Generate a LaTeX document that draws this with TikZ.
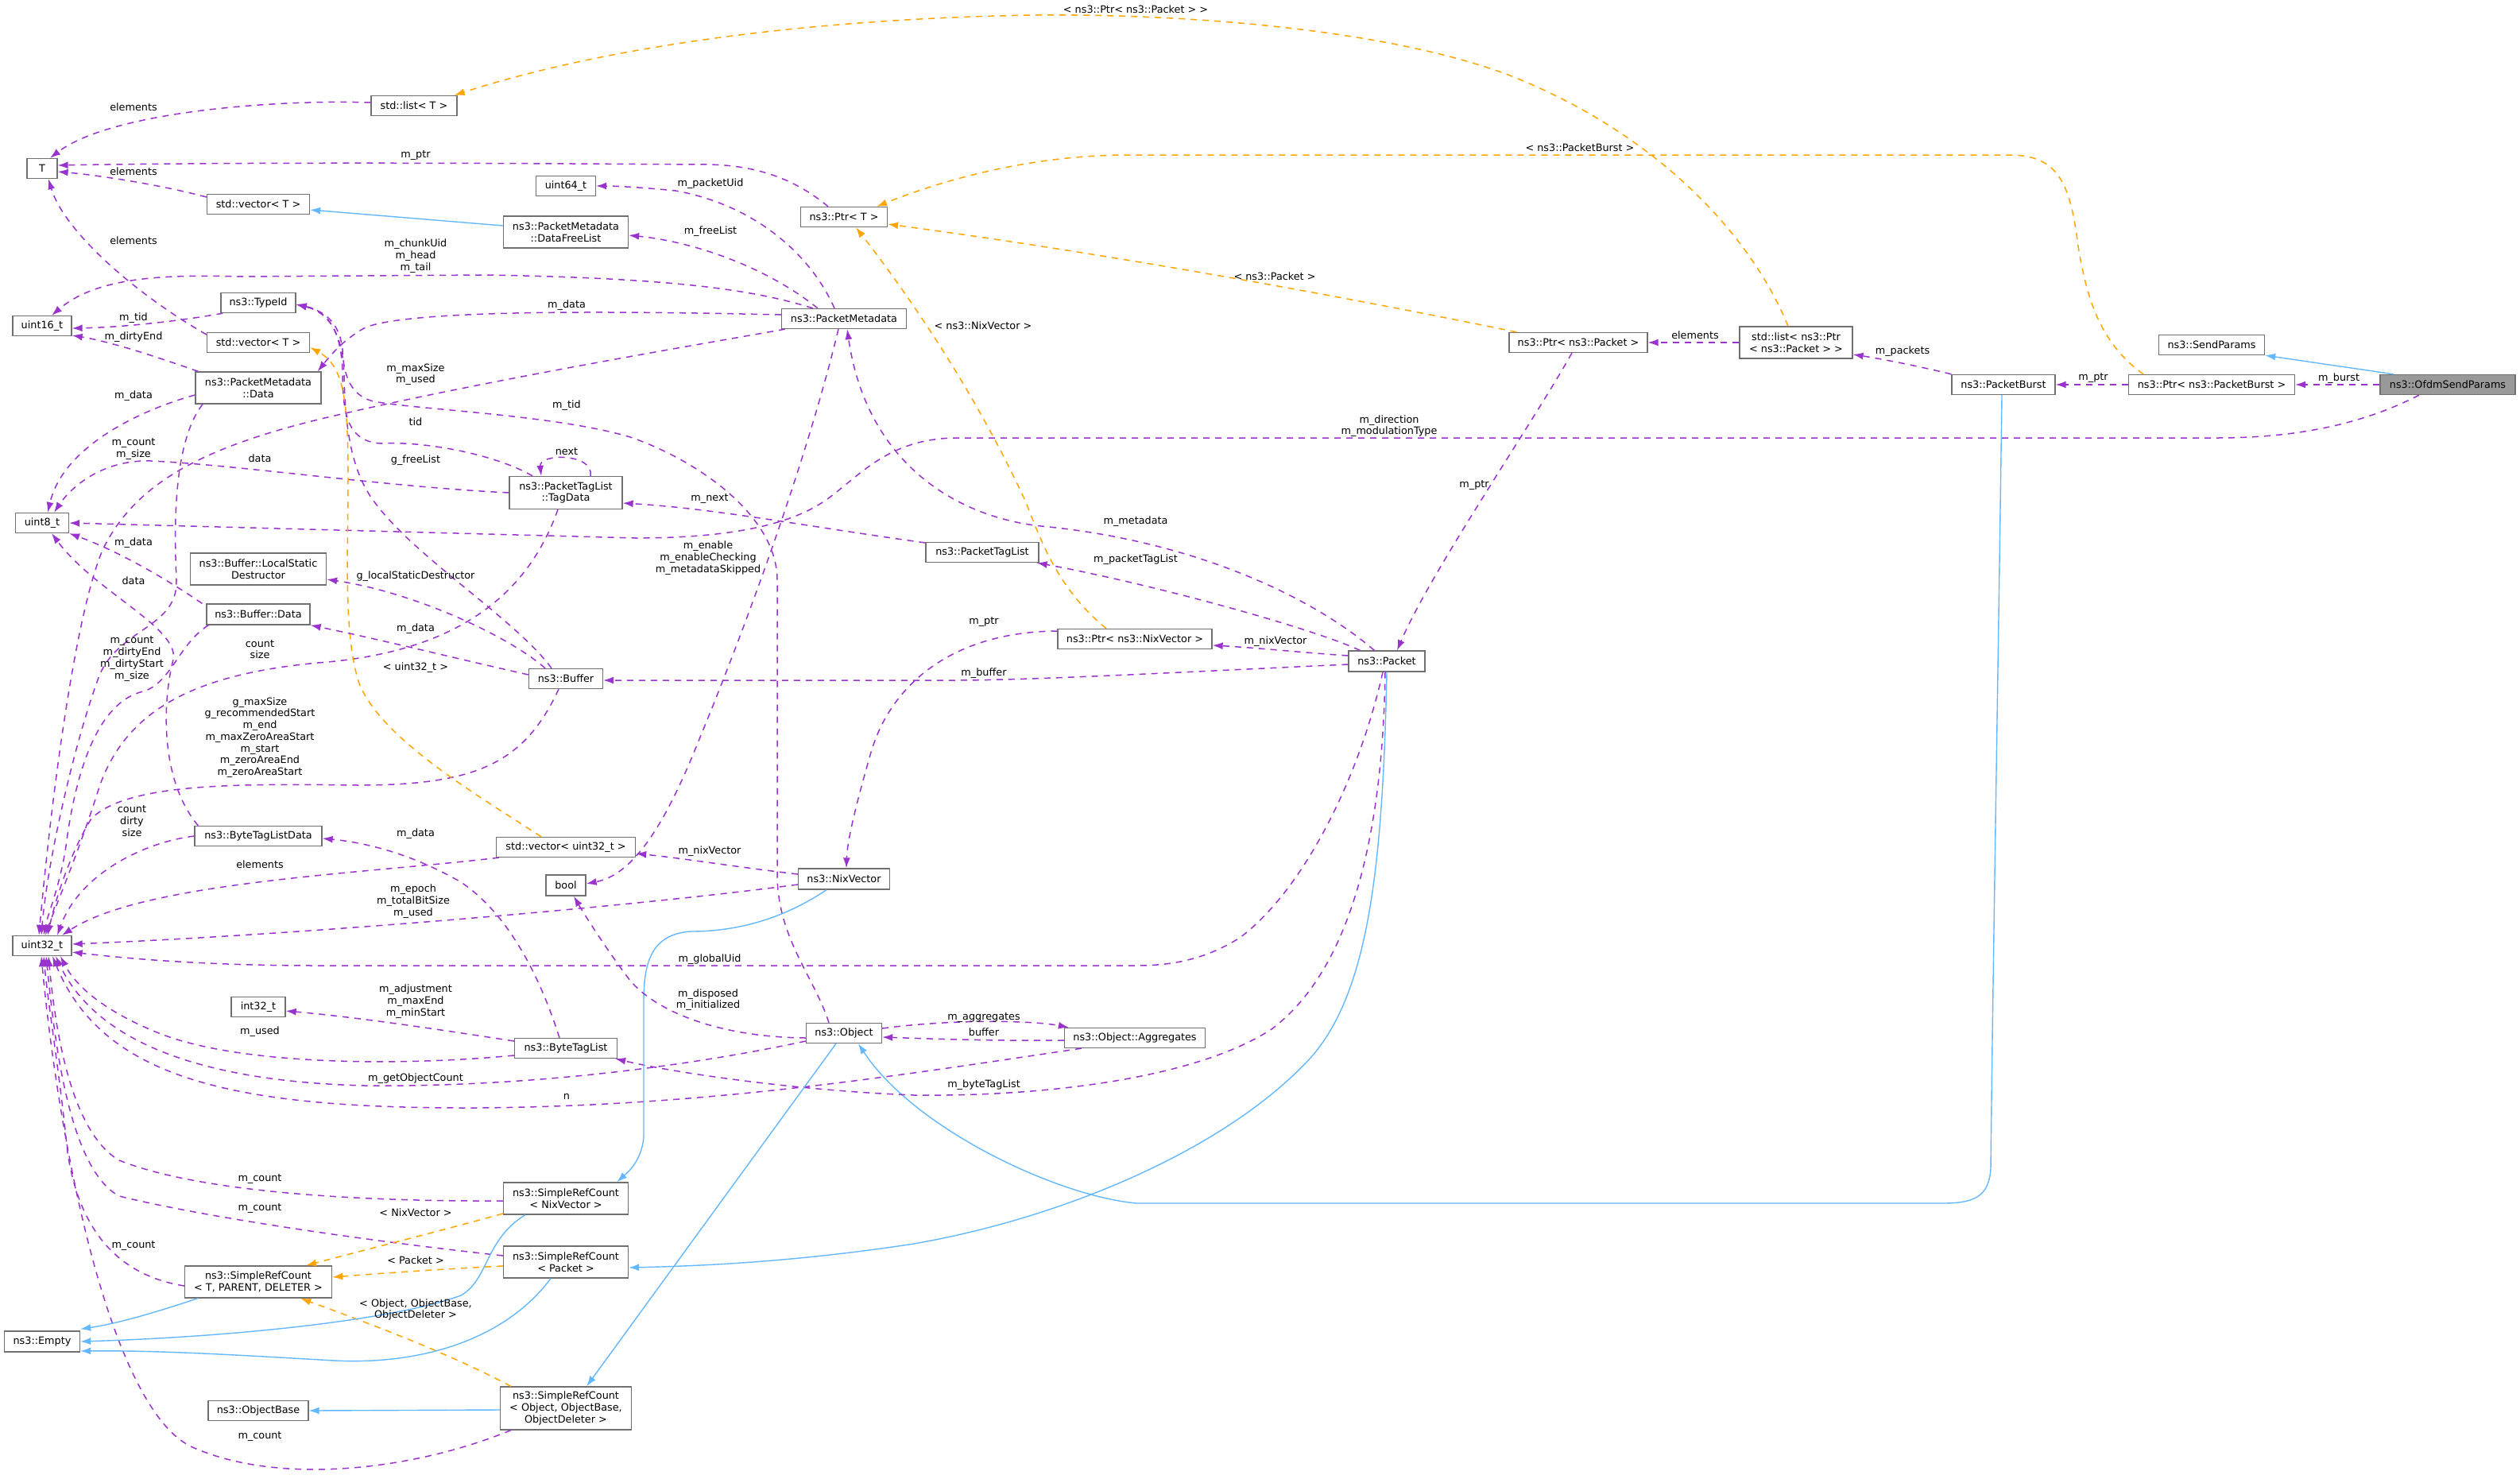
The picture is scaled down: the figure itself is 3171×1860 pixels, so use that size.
\documentclass[tikz,border=0pt]{standalone}
\usepackage{fontspec}
\setmainfont{DejaVu Sans}
\usetikzlibrary{arrows.meta}
\newcommand\dxfont{\fontsize{12.8pt}{14.7pt}\selectfont}
\definecolor{pur}{HTML}{9A32CD}
\definecolor{ora}{HTML}{FFA500}
\definecolor{blu}{HTML}{63B8FF}
\definecolor{bord}{HTML}{707070}
\definecolor{ofill}{HTML}{999999}
\tikzset{
 box/.style={draw=bord, line width=1.3pt, fill=white, inner sep=1pt, align=center, font=\dxfont, text=black},
 lab/.style={font=\dxfont, align=center, inner sep=0pt, text=black},
 pul/.style={draw=pur, line width=1.5pt, dash pattern=on 8pt off 7pt, -{Latex[length=13pt,width=9pt]}},
 orl/.style={draw=ora, line width=1.5pt, dash pattern=on 8pt off 7pt, -{Latex[length=13pt,width=9pt]}},
 bll/.style={draw=blu, line width=1.4pt, -{Latex[length=13pt,width=9pt]}},
}
\begin{document}
\begin{tikzpicture}[x=1pt,y=-1pt]
\fill[white] (0,0) rectangle (3171,1860);
\useasboundingbox (0,0) rectangle (3171,1860);
% ---------------- nodes
\node[box, minimum width=38pt, minimum height=25pt] (T) at (53,212) {T};
\node[box, minimum width=108pt, minimum height=25pt] (stdlistT) at (521,133) {std::list< T >};
\node[box, minimum width=129pt, minimum height=25pt] (vecA) at (325,257) {std::vector< T >};
\node[box, minimum width=75pt, minimum height=25pt] (uint64) at (712,234) {uint64\_t};
\node[box, minimum width=157pt, minimum height=40pt] (DFL) at (712,292) {ns3::PacketMetadata\\::DataFreeList};
\node[box, minimum width=94pt, minimum height=25pt] (TypeId) at (325,381) {ns3::TypeId};
\node[box, minimum width=74pt, minimum height=25pt] (uint16) at (53,410) {uint16\_t};
\node[box, minimum width=129pt, minimum height=25pt] (vecB) at (325,431) {std::vector< T >};
\node[box, minimum width=158pt, minimum height=40pt] (PMData) at (325,488) {ns3::PacketMetadata\\::Data};
\node[box, minimum width=142pt, minimum height=41pt] (TagData) at (712,620) {ns3::PacketTagList\\::TagData};
\node[box, minimum width=67pt, minimum height=25pt] (uint8) at (53,658) {uint8\_t};
\node[box, minimum width=171pt, minimum height=40pt] (LSD) at (325,716) {ns3::Buffer::LocalStatic\\Destructor};
\node[box, minimum width=130pt, minimum height=26pt] (BufData) at (325,773) {ns3::Buffer::Data};
\node[box, minimum width=93pt, minimum height=25pt] (Buffer) at (712,854) {ns3::Buffer};
\node[box, minimum width=160pt, minimum height=25pt] (BTLData) at (325,1052) {ns3::ByteTagListData};
\node[box, minimum width=175pt, minimum height=25pt] (vecU32) at (712,1066) {std::vector< uint32\_t >};
\node[box, minimum width=50pt, minimum height=26pt] (bool) at (712,1114) {bool};
\node[box, minimum width=74pt, minimum height=25pt] (uint32) at (53,1190) {uint32\_t};
\node[box, minimum width=68pt, minimum height=25pt] (int32) at (325,1267) {int32\_t};
\node[box, minimum width=129pt, minimum height=25pt] (BTL) at (712,1319) {ns3::ByteTagList};
\node[box, minimum width=157pt, minimum height=40pt] (SRCNix) at (712,1508) {ns3::SimpleRefCount\\< NixVector >};
\node[box, minimum width=157pt, minimum height=40pt] (SRCPacket) at (712,1588) {ns3::SimpleRefCount\\< Packet >};
\node[box, minimum width=185pt, minimum height=40pt] (SRCT) at (325,1613) {ns3::SimpleRefCount\\< T, PARENT, DELETER >};
\node[box, minimum width=95pt, minimum height=26pt] (Empty) at (53,1688) {ns3::Empty};
\node[box, minimum width=126pt, minimum height=25pt] (ObjectBase) at (325,1775) {ns3::ObjectBase};
\node[box, minimum width=165pt, minimum height=54pt] (SRCObj) at (712,1772) {ns3::SimpleRefCount\\< Object, ObjectBase,\\ObjectDeleter >};
\node[box, minimum width=109pt, minimum height=25pt] (PtrT) at (1062,273) {ns3::Ptr< T >};
\node[box, minimum width=157pt, minimum height=25pt] (PM) at (1062,401) {ns3::PacketMetadata};
\node[box, minimum width=142pt, minimum height=25pt] (PTL) at (1236,695) {ns3::PacketTagList};
\node[box, minimum width=194pt, minimum height=25pt] (PtrNix) at (1428,804) {ns3::Ptr< ns3::NixVector >};
\node[box, minimum width=115pt, minimum height=26pt] (NixVector) at (1062,1106) {ns3::NixVector};
\node[box, minimum width=95pt, minimum height=25pt] (Object) at (1062,1300) {ns3::Object};
\node[box, minimum width=177pt, minimum height=25pt] (Aggregates) at (1428,1306) {ns3::Object::Aggregates};
\node[box, minimum width=96pt, minimum height=26pt] (Packet) at (1745,832) {ns3::Packet};
\node[box, minimum width=174pt, minimum height=25pt] (PtrPacket) at (1986,431) {ns3::Ptr< ns3::Packet >};
\node[box, minimum width=142pt, minimum height=40pt] (listPP) at (2260,431) {std::list< ns3::Ptr\\< ns3::Packet > >};
\node[box, minimum width=130pt, minimum height=25pt] (PacketBurst) at (2521,484) {ns3::PacketBurst};
\node[box, minimum width=209pt, minimum height=25pt] (PtrBurst) at (2783,484) {ns3::Ptr< ns3::PacketBurst >};
\node[box, minimum width=133pt, minimum height=25pt] (SendParams) at (2783,434) {ns3::SendParams};
\node[box, fill=ofill, minimum width=170pt, minimum height=25pt] (Ofdm) at (3080,484) {ns3::OfdmSendParams};
% ---------------- edges
\draw[bll] ([xshift=-68pt]Ofdm.north) -- (SendParams.south east);
\draw[pul] (Ofdm.west) -- (PtrBurst.east);
\draw[pul] ([xshift=-36pt]Ofdm.south) .. controls (2980,530) and (2900,551) .. (2790,551) -- (1200,551) .. controls (1120,553) and (1085,595) .. (1045,625) .. controls (1000,660) and (920,677) .. (800,677) -- (uint8.east);
\draw[pul] (PtrBurst.west) -- (PacketBurst.east);
\draw[orl] ([xshift=-86pt]PtrBurst.north) .. controls (2640,430) and (2625,370) .. (2615,310) .. controls (2605,230) and (2590,195) .. (2528,195) -- (1420,195) .. controls (1300,195) and (1190,225) .. ([xshift=-14pt]PtrT.north east);
\draw[pul] (PacketBurst.north west) .. controls (2420,462) and (2370,452) .. ([yshift=-15pt]listPP.east);
\draw[bll] ([xshift=-2pt]PacketBurst.south) .. controls (2515,800) and (2508,1200) .. (2505,1470) .. controls (2503,1505) and (2485,1514) .. (2445,1514) -- (1430,1514) .. controls (1330,1505) and (1150,1420) .. ([xshift=18pt]Object.south);
\draw[pul] (listPP.west) -- (PtrPacket.east);
\draw[orl] ([xshift=-10pt]listPP.north) .. controls (2205,300) and (2090,170) .. (1900,95) .. controls (1750,38) and (1500,17) .. (1300,19) .. controls (1000,24) and (750,62) .. ([xshift=-4pt]stdlistT.north east);
\draw[pul] ([xshift=-8pt]PtrPacket.south) .. controls (1930,530) and (1800,720) .. ([xshift=13pt]Packet.north);
\draw[orl] ([xshift=10pt]PtrPacket.north west) .. controls (1700,375) and (1400,320) .. ([yshift=-9pt]PtrT.east);
\draw[pul] ([xshift=33pt]Packet.north west) .. controls (1650,750) and (1500,680) .. (1310,662) .. controls (1200,650) and (1090,580) .. ([xshift=4pt]PM.south);
\draw[pul] ([xshift=15pt]Packet.north west) .. controls (1650,790) and (1450,735) .. ([xshift=-3pt]PTL.south east);
\draw[pul] ([yshift=7pt]Packet.west) .. controls (1650,822) and (1580,815) .. ([yshift=-8pt]PtrNix.east);
\draw[pul] ([yshift=-4pt]Packet.west) .. controls (1500,845) and (1300,856) .. (1200,856) -- ([yshift=-2pt]Buffer.east);
\draw[pul] ([xshift=-5pt]Packet.south) .. controls (1710,980) and (1640,1120) .. (1560,1180) .. controls (1520,1205) and (1480,1215) .. (1430,1215) -- (400,1215) .. controls (250,1215) and (150,1205) .. ([yshift=-8pt]uint32.east);
\draw[pul] ([xshift=-2pt]Packet.south) .. controls (1740,1050) and (1700,1220) .. (1600,1295) .. controls (1500,1360) and (1300,1380) .. (1150,1378) .. controls (1000,1372) and (850,1350) .. ([xshift=-3pt]BTL.south east);
\draw[pul] ([yshift=10pt]PtrNix.west) .. controls (1200,795) and (1120,860) .. (1095,950) .. controls (1075,1020) and (1066,1060) .. ([xshift=3pt]NixVector.north);
\draw[orl] ([xshift=-36pt]PtrNix.north) .. controls (1330,740) and (1310,680) .. (1290,630) .. controls (1230,500) and (1150,380) .. ([xshift=15pt]PtrT.south);
\draw[pul] ([yshift=12pt]PTL.west) .. controls (1000,660) and (900,640) .. ([yshift=-13pt]TagData.east);
\draw[pul] ([xshift=31pt]TagData.north) .. controls (748,570) and (678,570) .. ([xshift=-31pt]TagData.north);
\draw[pul] ([xshift=-42pt]TagData.north) .. controls (620,570) and (530,555) .. (480,558) .. controls (432,556) and (432,510) .. (431,470) .. controls (430,420) and (415,392) .. ([yshift=-2pt]TypeId.east);
\draw[pul] ([xshift=-19pt]Object.north) .. controls (1025,1230) and (978,1180) .. (978,1100) -- (978,730) .. controls (978,650) and (880,580) .. (793,550) .. controls (700,522) and (520,515) .. (470,505) .. controls (436,497) and (432,462) .. (431,440) .. controls (428,410) and (412,392) .. ([yshift=-2pt]TypeId.east);
\draw[pul] ([xshift=-18pt]Buffer.north) .. controls (650,780) and (520,700) .. (470,630) .. controls (440,590) and (434,530) .. (433,470) .. controls (431,420) and (414,393) .. ([yshift=-2pt]TypeId.east);
\draw[pul] (TagData.west) .. controls (480,612) and (300,585) .. (190,580) .. controls (130,578) and (90,612) .. ([xshift=15pt]uint8.north);
\draw[pul] ([yshift=-9pt]PMData.west) .. controls (180,515) and (80,560) .. ([xshift=7pt]uint8.north);
\draw[pul] ([xshift=-10pt]TagData.south) .. controls (660,760) and (560,822) .. (400,834) .. controls (250,848) and (160,890) .. (125,990) .. controls (100,1070) and (70,1140) .. ([xshift=4pt]uint32.north);
\draw[pul] ([xshift=-70pt]PMData.south) .. controls (215,560) and (220,680) .. (222,730) .. controls (224,790) and (150,790) .. (125,850) .. controls (95,930) and (60,1080) .. ([xshift=-1pt]uint32.north);
\draw[pul] ([xshift=-5pt]BufData.north west) .. controls (200,722) and (140,690) .. (uint8.south east);
\draw[pul] ([xshift=5pt]BTLData.north west) .. controls (200,980) and (205,880) .. (218,830) .. controls (226,790) and (120,745) .. ([xshift=12pt]uint8.south);
\draw[pul] ([xshift=3pt]BufData.south west) .. controls (225,810) and (215,860) .. (180,870) .. controls (130,882) and (100,950) .. (85,1050) .. controls (78,1110) and (60,1150) .. ([xshift=2pt]uint32.north);
\draw[pul] ([xshift=5pt]PM.south west) .. controls (900,430) and (600,480) .. (400,528) .. controls (250,565) and (170,610) .. (130,690) .. controls (95,770) and (65,1000) .. ([xshift=-4pt]uint32.north);
\draw[pul] ([xshift=-9pt]Buffer.south) .. controls (660,960) and (600,988) .. (450,988) .. controls (300,986) and (160,985) .. (115,1030) .. controls (90,1070) and (70,1130) .. ([xshift=7pt]uint32.north);
\draw[pul] (BTLData.west) .. controls (180,1060) and (100,1100) .. ([xshift=19pt]uint32.north);
\draw[pul] ([xshift=4pt]vecU32.south west) .. controls (450,1100) and (180,1110) .. ([xshift=25pt]uint32.north);
\draw[orl] ([xshift=-31pt]vecU32.north) .. controls (600,1000) and (480,930) .. (452,860) .. controls (432,800) and (438,700) .. (438,600) .. controls (438,500) and (432,460) .. ([yshift=-6pt]vecB.east);
\draw[pul] ([xshift=-26pt]Buffer.north) .. controls (640,800) and (520,745) .. ([yshift=-13pt]LSD.east);
\draw[pul] ([yshift=5pt]Buffer.west) .. controls (580,830) and (480,805) .. (BufData.south east);
\draw[pul] ([yshift=6pt]NixVector.west) .. controls (920,1090) and (860,1080) .. ([yshift=-8pt]vecU32.east);
\draw[pul] ([yshift=-7pt]NixVector.west) .. controls (800,1140) and (400,1175) .. ([yshift=2pt]uint32.east);
\draw[pul] ([xshift=-7pt]PM.south) .. controls (1020,560) and (950,760) .. (880,930) .. controls (840,1030) and (800,1100) .. ([yshift=2pt]bool.east);
\draw[pul] ([xshift=40pt]PM.north west) .. controls (950,365) and (850,350) .. (612,346) -- (300,348) .. controls (200,345) and (120,350) .. ([xshift=12pt]uint16.north);
\draw[pul] ([yshift=5pt]PM.west) .. controls (800,392) and (520,388) .. (460,412) .. controls (430,428) and (412,452) .. ([xshift=-5pt]PMData.north east);
\draw[pul] ([xshift=46pt]PM.north west) .. controls (970,340) and (880,305) .. ([yshift=-4pt]DFL.east);
\draw[pul] ([xshift=-12pt]PM.north) .. controls (1020,320) and (950,258) .. (850,240) .. controls (800,235) and (770,234) .. (uint64.east);
\draw[pul] ([xshift=-20pt]PtrT.north) .. controls (1000,225) and (950,206) .. (880,207) .. controls (600,205) and (300,204) .. ([yshift=4pt]T.east);
\draw[pul] ([yshift=9pt]vecA.west) .. controls (200,232) and (120,220) .. ([yshift=-4pt]T.east);
\draw[pul] ([yshift=10pt]vecB.west) .. controls (170,370) and (80,290) .. ([xshift=8pt]T.south);
\draw[pul] ([yshift=4pt]stdlistT.west) .. controls (350,125) and (140,140) .. ([xshift=10pt]T.north);
\draw[bll] ([yshift=8pt]DFL.west) -- ([yshift=-7pt]vecA.east);
\draw[pul] ([xshift=3pt]TypeId.south west) .. controls (220,405) and (150,412) .. ([yshift=-3pt]uint16.east);
\draw[pul] ([xshift=4pt]PMData.north west) .. controls (200,450) and (140,430) .. ([yshift=-12pt]uint16.east);
\draw[pul] ([yshift=9pt]BTL.west) .. controls (550,1295) and (450,1280) .. ([yshift=-5pt]int32.east);
\draw[pul] ([xshift=-8pt]BTL.north) .. controls (680,1230) and (640,1150) .. (580,1110) .. controls (520,1075) and (460,1060) .. ([yshift=-3pt]BTLData.east);
\draw[pul] ([yshift=-9pt]BTL.west) .. controls (500,1342) and (300,1340) .. (200,1300) .. controls (130,1272) and (95,1240) .. ([xshift=23pt]uint32.south);
\draw[pul] ([yshift=-10pt]Object.west) .. controls (850,1345) and (650,1368) .. (459,1366) .. controls (300,1362) and (130,1330) .. ([xshift=17pt]uint32.south);
\draw[pul] ([xshift=22pt]Aggregates.south west) .. controls (1150,1350) and (900,1392) .. (600,1394) .. controls (300,1395) and (130,1360) .. ([xshift=13pt]uint32.south);
\draw[pul] ([yshift=6pt]Object.east) .. controls (1200,1282) and (1300,1284) .. ([xshift=6pt]Aggregates.north west);
\draw[pul] ([yshift=-3pt]Aggregates.west) .. controls (1250,1310) and (1170,1307) .. ([yshift=-5pt]Object.east);
\draw[bll] ([xshift=-10pt]Object.south) -- ([xshift=-57pt]SRCObj.north east);
\draw[bll] ([yshift=-2pt]SRCObj.west) -- (ObjectBase.east);
\draw[orl] ([xshift=14pt]SRCObj.north west) .. controls (560,1700) and (450,1660) .. ([xshift=-40pt]SRCT.south east);
\draw[pul] ([xshift=14pt]SRCObj.south west) .. controls (520,1850) and (350,1870) .. (240,1820) .. controls (140,1770) and (75,1450) .. ([xshift=-1pt]uint32.south);
\draw[pul] ([yshift=-3pt]SRCNix.west) .. controls (450,1512) and (250,1500) .. (150,1460) .. controls (90,1425) and (70,1300) .. ([xshift=8pt]uint32.south);
\draw[pul] ([yshift=8pt]SRCPacket.west) .. controls (450,1560) and (250,1530) .. (150,1505) .. controls (85,1470) and (68,1300) .. ([xshift=5pt]uint32.south);
\draw[pul] ([yshift=-5pt]SRCT.west) .. controls (150,1605) and (100,1550) .. (85,1450) .. controls (75,1350) and (60,1260) .. ([xshift=2pt]uint32.south);
\draw[orl] ([yshift=-19pt]SRCNix.west) .. controls (550,1550) and (450,1575) .. ([xshift=-33pt]SRCT.north east);
\draw[orl] ([yshift=-5pt]SRCPacket.west) .. controls (550,1597) and (470,1603) .. ([yshift=6pt]SRCT.east);
\draw[bll] ([xshift=17pt]SRCT.south west) .. controls (200,1650) and (150,1665) .. ([yshift=2pt]Empty.north east);
\draw[bll] ([xshift=28pt]SRCNix.south west) .. controls (610,1560) and (615,1610) .. (580,1630) .. controls (500,1660) and (300,1682) .. (Empty.east);
\draw[bll] ([xshift=-19pt]SRCPacket.south) .. controls (640,1680) and (540,1718) .. (420,1712) .. controls (300,1705) and (200,1699) .. ([yshift=-12pt]Empty.east);
\draw[bll] ([xshift=-22pt]NixVector.south) .. controls (980,1160) and (920,1172) .. (870,1172) .. controls (820,1175) and (810,1210) .. (810,1260) -- (810,1430) .. controls (808,1460) and (790,1475) .. ([xshift=-15pt]SRCNix.north east);
\draw[bll] (Packet.south) .. controls (1740,1100) and (1720,1250) .. (1650,1330) .. controls (1550,1440) and (1350,1530) .. (1150,1565) .. controls (1000,1588) and (880,1593) .. ([yshift=-7pt]SRCPacket.east);
\draw[pul] ([yshift=-6pt]Object.west) .. controls (900,1305) and (820,1270) .. (790,1230) .. controls (760,1190) and (735,1150) .. ([xshift=10pt]bool.south);
% ---------------- labels
\node[lab] (L1) at (168,135) {elements};
\node[lab] (L2) at (523,196) {m\_ptr};
\node[lab] (L3) at (168,216) {elements};
\node[lab] (L4) at (168,303) {elements};
\node[lab] (L5) at (894,231) {m\_packetUid};
\node[lab] (L6) at (894,291) {m\_freeList};
\node[lab] (L7) at (523,322) {m\_chunkUid\\m\_head\\m\_tail};
\node[lab] (L8) at (713,384) {m\_data};
\node[lab] (L9) at (168,400) {m\_tid};
\node[lab] (L10) at (168,424) {m\_dirtyEnd};
\node[lab] (L11) at (523,471) {m\_maxSize\\m\_used};
\node[lab] (L12) at (168,498) {m\_data};
\node[lab] (L13) at (713,510) {m\_tid};
\node[lab] (L14) at (523,531) {tid};
\node[lab] (L15) at (168,565) {m\_count\\m\_size};
\node[lab] (L16) at (327,577) {data};
\node[lab] (L17) at (523,579) {g\_freeList};
\node[lab] (L18) at (713,568) {next};
\node[lab] (L19) at (893,628) {m\_next};
\node[lab] (L20) at (1748,536) {m\_direction\\m\_modulationType};
\node[lab] (L21) at (1988,186) {< ns3::PacketBurst >};
\node[lab] (L22) at (1429,12) {< ns3::Ptr< ns3::Packet > >};
\node[lab] (L23) at (1604,348) {< ns3::Packet >};
\node[lab] (L24) at (1237,410) {< ns3::NixVector >};
\node[lab] (L25) at (2133,422) {elements};
\node[lab] (L26) at (2394,442) {m\_packets};
\node[lab] (L27) at (2634,476) {m\_ptr};
\node[lab] (L28) at (2943,476) {m\_burst};
\node[lab] (L29) at (1855,611) {m\_ptr};
\node[lab] (L30) at (1429,656) {m\_metadata};
\node[lab] (L31) at (1429,704) {m\_packetTagList};
\node[lab] (L32) at (891,702) {m\_enable\\m\_enableChecking\\m\_metadataSkipped};
\node[lab] (L33) at (168,683) {m\_data};
\node[lab] (L34) at (523,725) {g\_localStaticDestructor};
\node[lab] (L35) at (168,731) {data};
\node[lab] (L36) at (1238,783) {m\_ptr};
\node[lab] (L37) at (1605,807) {m\_nixVector};
\node[lab] (L38) at (523,791) {m\_data};
\node[lab] (L39) at (327,817) {count\\size};
\node[lab] (L40) at (166,829) {m\_count\\m\_dirtyEnd\\m\_dirtyStart\\m\_size};
\node[lab] (L41) at (523,840) {< uint32\_t >};
\node[lab] (L42) at (1238,847) {m\_buffer};
\node[lab] (L43) at (327,928) {g\_maxSize\\g\_recommendedStart\\m\_end\\m\_maxZeroAreaStart\\m\_start\\m\_zeroAreaEnd\\m\_zeroAreaStart};
\node[lab] (L44) at (166,1033) {count\\dirty\\size};
\node[lab] (L45) at (523,1049) {m\_data};
\node[lab] (L46) at (893,1071) {m\_nixVector};
\node[lab] (L47) at (327,1088) {elements};
\node[lab] (L48) at (520,1134) {m\_epoch\\m\_totalBitSize\\m\_used};
\node[lab] (L49) at (893,1207) {m\_globalUid};
\node[lab] (L50) at (891,1258) {m\_disposed\\m\_initialized};
\node[lab] (L51) at (523,1260) {m\_adjustment\\m\_maxEnd\\m\_minStart};
\node[lab] (L52) at (1238,1280) {m\_aggregates};
\node[lab] (L53) at (327,1298) {m\_used};
\node[lab] (L54) at (1238,1299) {buffer};
\node[lab] (L55) at (523,1357) {m\_getObjectCount};
\node[lab] (L56) at (1238,1365) {m\_byteTagList};
\node[lab] (L57) at (713,1380) {n};
\node[lab] (L58) at (327,1483) {m\_count};
\node[lab] (L59) at (327,1520) {m\_count};
\node[lab] (L60) at (523,1526) {< NixVector >};
\node[lab] (L61) at (168,1567) {m\_count};
\node[lab] (L62) at (523,1586) {< Packet >};
\node[lab] (L63) at (523,1648) {< Object, ObjectBase,\\ObjectDeleter >};
\node[lab] (L64) at (327,1807) {m\_count};
\end{tikzpicture}
\end{document}
